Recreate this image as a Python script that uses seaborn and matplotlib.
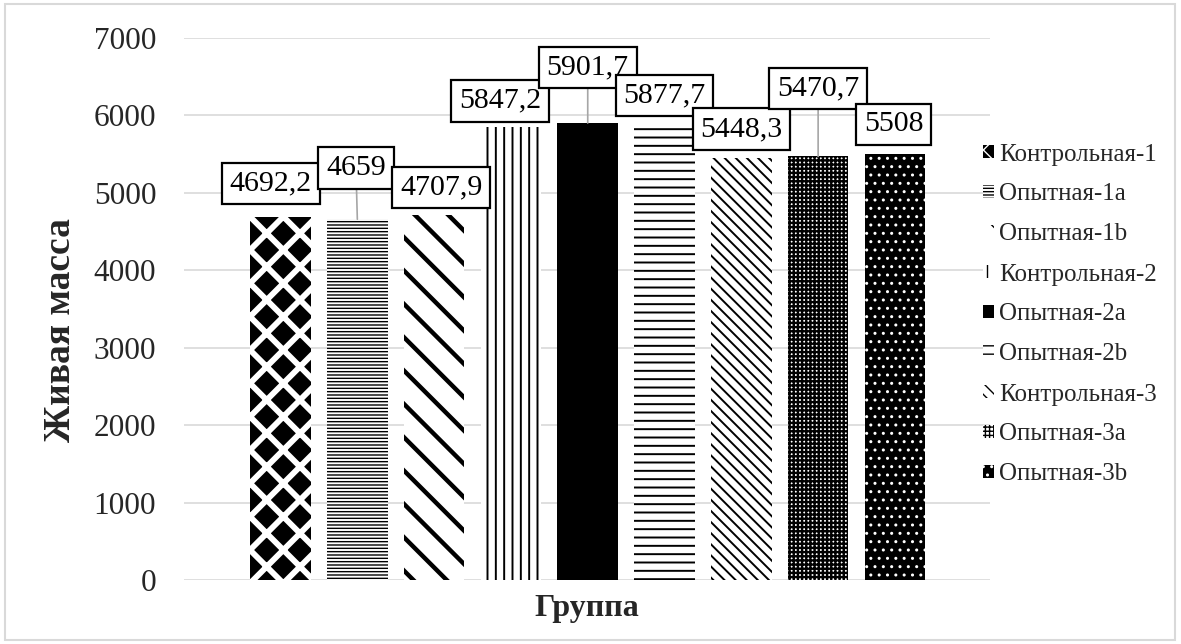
import matplotlib
matplotlib.use("Agg")
import matplotlib.pyplot as plt
import seaborn as sns

# Live weight by group
groups = ["Контрольная-1", "Опытная-1a", "Опытная-1b",
          "Контрольная-2", "Опытная-2a", "Опытная-2b",
          "Контрольная-3", "Опытная-3a", "Опытная-3b"]
live_mass = [4692.2, 4659, 4707.9, 5847.2, 5901.7, 5877.7, 5448.3, 5470.7, 5508]
value_labels = ["4692,2", "4659", "4707,9", "5847,2", "5901,7",
                "5877,7", "5448,3", "5470,7", "5508"]
y_ticks = [0, 1000, 2000, 3000, 4000, 5000, 6000, 7000]

# Fill style per bar: face colour, hatch colour, hatch pattern, hatch width
fills = [
    ("black", "white", "x", 4.2),
    ("white", "black", "-----", 1.0),
    ("white", "black", "\\", 3.2),
    ("white", "black", "||", 1.4),
    ("black", "black", "", 1.0),
    ("white", "black", "--", 1.4),
    ("white", "black", "\\\\\\", 1.4),
    ("white", "black", "++++", 1.7),
    ("black", "white", "..", 1.0),
]

# Label box offsets from each bar top, in points
label_dx = [-7, -1, 5, -8, 0, 0, 0, 0, -1]
label_dy = [24, 37, 20, 19, 40, 21, 21, 49, 21]

sns.set_theme(style="white")
plt.rcParams["font.family"] = ["Liberation Serif", "DejaVu Serif"]

W, H = 1181, 644
fig = plt.figure(figsize=(W / 100, H / 100), dpi=100)
ax = fig.add_axes([184 / W, 1 - 580 / H, (990 - 184) / W, (580 - 38) / H])

sns.barplot(x=groups, y=live_mass, hue=groups, order=groups, hue_order=groups,
            palette=["white"] * len(groups), width=0.79, legend=False,
            dodge=False, ax=ax)

bars = sorted([p for p in ax.patches], key=lambda p: p.get_x())
for bar, (face, hcol, hatch, hlw) in zip(bars, fills):
    bar.set_facecolor(face)
    bar.set_edgecolor(hcol)
    bar.set_hatch(hatch)
    bar.set_linewidth(0)
    if hasattr(bar, "set_hatch_linewidth"):
        bar.set_hatch_linewidth(hlw)
    else:
        bar._hatch_linewidth = hlw

ax.set_xlim(-1.257, 9.238)
ax.set_ylim(0, 7000)
ax.set_yticks(y_ticks)
ax.set_yticklabels([str(t) for t in y_ticks], fontsize=22.5)
ax.set_xticks([])
ax.tick_params(axis="y", length=0, pad=20)
ax.grid(axis="y", color="#d9d9d9", linewidth=1.2)
ax.set_axisbelow(True)
for s in ax.spines.values():
    s.set_visible(False)

ax.set_xlabel("Группа", fontsize=23, fontweight="bold", labelpad=10)
ax.set_ylabel("Живая масса", fontsize=27, fontweight="bold")
ax.yaxis.set_label_coords(-0.132, 0.461)

# Boxed value labels with leader lines where the box sits high
for bar, text, dx, dy in zip(bars, value_labels, label_dx, label_dy):
    xc = bar.get_x() + bar.get_width() / 2
    top = bar.get_height()
    arrow = dict(arrowstyle="-", color="#a6a6a6", lw=1.2,
                 shrinkA=0, shrinkB=0) if dy > 30 else None
    ax.annotate(text, xy=(xc, top), xytext=(dx, dy), textcoords="offset points",
                ha="center", va="center", fontsize=21.5, color="black",
                bbox=dict(boxstyle="square,pad=0.26", fc="white", ec="black", lw=1.6),
                arrowprops=arrow, zorder=5)

leg = ax.legend(handles=bars, labels=groups, loc="center left",
                bbox_to_anchor=(983 / W, 1 - 314.5 / H),
                bbox_transform=fig.transFigure, frameon=False, fontsize=18,
                handlelength=0.45, handleheight=0.45, handletextpad=0.2,
                labelspacing=0.72, borderpad=0, borderaxespad=0)

fig.add_artist(plt.Rectangle((5 / W, 4 / H), 1 - 11 / W, 1 - 8 / H,
                             transform=fig.transFigure, fill=False,
                             edgecolor="#d9d9d9", linewidth=1.5))

fig.savefig("out.png", dpi=100)
